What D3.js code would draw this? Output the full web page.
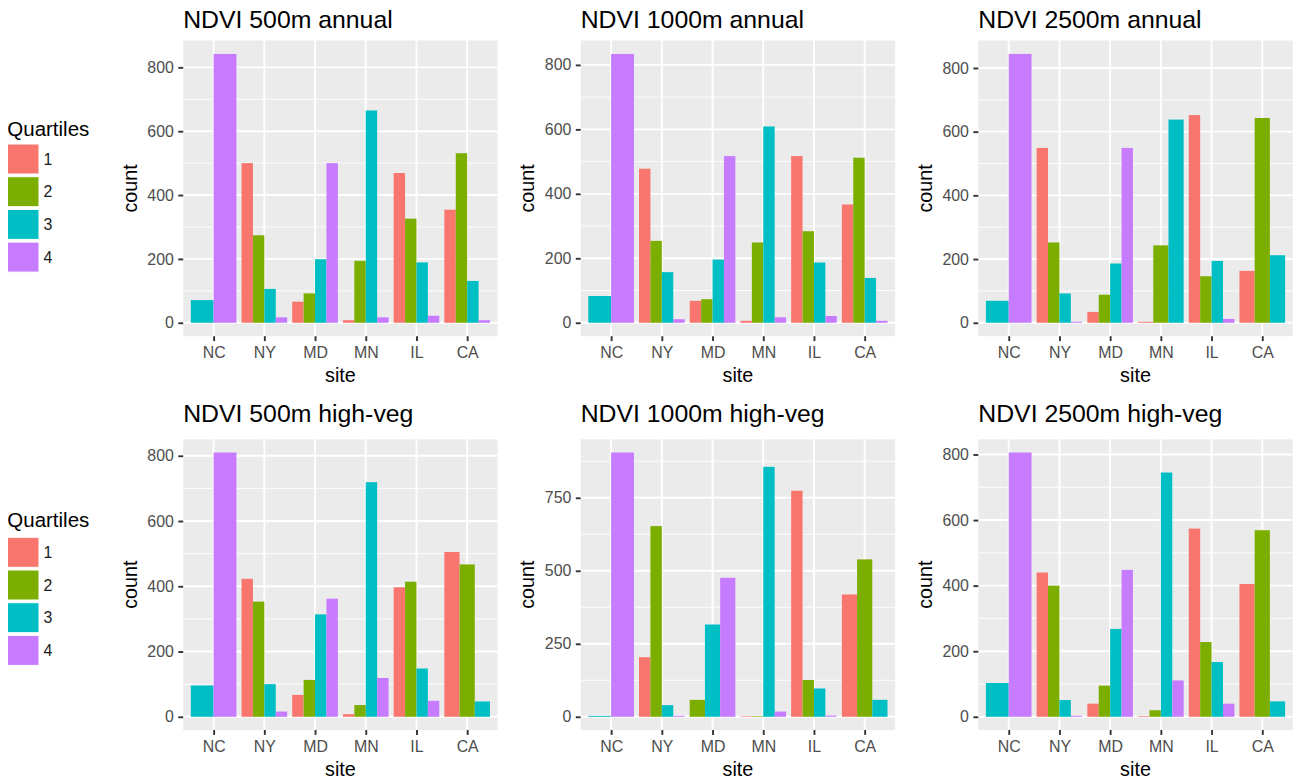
<!DOCTYPE html>
<html>
<head>
<meta charset="utf-8">
<script src="https://cdn.jsdelivr.net/npm/d3@7"></script>
<style>
  body { margin: 0; background: #fff; }
  text { font-family: "Liberation Sans", Arial, sans-serif; }
</style>
</head>
<body>
<div id="chart"></div>
<script>

const sites = ['NC', 'NY', 'MD', 'MN', 'IL', 'CA'];
const quartiles = ['1', '2', '3', '4'];
const colors = ['#F8766D', '#7CAE00', '#00BFC4', '#C77CFF'];

// rows = quartile 1..4, columns = site; null means that quartile has no bar at the site
const annual500 = [
  [null, 500, 66, 8, 469, 354],
  [null, 274, 92, 194, 326, 531],
  [71, 106, 199, 665, 189, 131],
  [842, 17, 500, 17, 22, 8]
];
const annual1000 = [
  [null, 478, 68, 6, 517, 367],
  [null, 254, 73, 249, 284, 512],
  [83, 157, 196, 609, 187, 139],
  [834, 11, 517, 17, 21, 6]
];
const annual2500 = [
  [null, 549, 34, 3, 652, 163],
  [null, 252, 88, 243, 146, 643],
  [69, 92, 186, 638, 194, 212],
  [844, 3, 549, null, 12, null]
];
const highveg500 = [
  [null, 423, 67, 8, 397, 505],
  [null, 353, 113, 36, 414, 467],
  [96, 100, 314, 719, 148, 47],
  [810, 16, 362, 119, 49, null]
];
const highveg1000 = [
  [null, 204, null, 2, 774, 419],
  [null, 653, 58, 2, 126, 539],
  [3, 40, 316, 856, 97, 58],
  [905, 3, 476, 18, 4, null]
];
const highveg2500 = [
  [null, 440, 40, 2, 574, 405],
  [null, 400, 95, 20, 228, 569],
  [103, 51, 268, 745, 167, 47],
  [806, 3, 448, 111, 40, null]
];

const ticksBy200 = [0, 200, 400, 600, 800];
const ticksBy250 = [0, 250, 500, 750];

const titles = ['NDVI 500m annual', 'NDVI 1000m annual', 'NDVI 2500m annual',
                'NDVI 500m high-veg', 'NDVI 1000m high-veg', 'NDVI 2500m high-veg'];
const panelData = [annual500, annual1000, annual2500, highveg500, highveg1000, highveg2500];
const panelTicks = [ticksBy200, ticksBy200, ticksBy200, ticksBy200, ticksBy250, ticksBy200];

const width = 1298;
const height = 783;
const colLeft = [183.2, 580.7, 978.3];
const plotWidth = 314.4;
const rows = [
  {top: 40.5, bottom: 336.2, titleY: 27.8, legendTitleY: 135.5, keyTop: 144},
  {top: 439.3, bottom: 730, titleY: 421.7, legendTitleY: 527, keyTop: 537.3}
];

const svg = d3.select('#chart')
              .append('svg')
              .attr('width', width)
              .attr('height', height);

svg.append('rect')
   .attr('width', width)
   .attr('height', height)
   .attr('fill', '#fff');

const drawPanel = (idx) => {
  const data = panelData[idx];
  const row = rows[Math.floor(idx / 3)];
  const left = colLeft[idx % 3];
  const right = left + plotWidth;
  const maxVal = d3.max(data.flat().filter((d) => d !== null));
  const majors = panelTicks[idx];

  const x = d3.scalePoint()
              .domain(sites)
              .range([left, right])
              .padding(0.6);
  const step = x.step();

  const y = d3.scaleLinear()
              .domain([-0.05 * maxVal, 1.05 * maxVal])
              .range([row.bottom, row.top]);

  const g = svg.append('g');

  g.append('rect')
   .attr('x', left)
   .attr('y', row.top)
   .attr('width', plotWidth)
   .attr('height', row.bottom - row.top)
   .attr('fill', '#EBEBEB');

  // minor grid lines halfway between breaks
  const gap = majors[1] - majors[0];
  const minors = [majors[0] - gap / 2].concat(majors.map((d) => d + gap / 2))
                   .filter((d) => d > y.domain()[0] && d < y.domain()[1]);

  g.selectAll('.minor')
   .data(minors)
   .enter()
   .append('line')
   .attr('x1', left)
   .attr('x2', right)
   .attr('y1', (d) => y(d))
   .attr('y2', (d) => y(d))
   .attr('stroke', '#fff')
   .attr('stroke-width', 0.9);

  g.selectAll('.major')
   .data(majors)
   .enter()
   .append('line')
   .attr('x1', left)
   .attr('x2', right)
   .attr('y1', (d) => y(d))
   .attr('y2', (d) => y(d))
   .attr('stroke', '#fff')
   .attr('stroke-width', 1.9);

  g.selectAll('.vgrid')
   .data(sites)
   .enter()
   .append('line')
   .attr('x1', (d) => x(d))
   .attr('x2', (d) => x(d))
   .attr('y1', row.top)
   .attr('y2', row.bottom)
   .attr('stroke', '#fff')
   .attr('stroke-width', 1.9);

  // dodged bars: the 0.9 wide slot is shared by the quartiles present at each site
  const bars = [];
  sites.forEach((site, i) => {
    const present = quartiles.map((q, k) => k).filter((k) => data[k][i] !== null);
    const bw = 0.9 * step / present.length;
    present.forEach((k, j) => {
      bars.push({site: site, q: k, value: data[k][i], x0: x(site) - 0.45 * step + j * bw, w: bw});
    });
  });

  g.selectAll('.bar')
   .data(bars)
   .enter()
   .append('rect')
   .attr('x', (d) => d.x0)
   .attr('y', (d) => y(d.value))
   .attr('width', (d) => d.w)
   .attr('height', (d) => y(0) - y(d.value))
   .attr('fill', (d) => colors[d.q]);

  const yAxis = d3.axisLeft(y)
                  .tickValues(majors)
                  .tickSize(4.9)
                  .tickPadding(4.5);
  const xAxis = d3.axisBottom(x)
                  .tickSize(4.9)
                  .tickPadding(5.5);

  const ya = g.append('g')
              .attr('transform', 'translate(' + left + ', 0)')
              .call(yAxis);
  const xa = g.append('g')
              .attr('transform', 'translate(0, ' + row.bottom + ')')
              .call(xAxis);

  [ya, xa].forEach((a) => {
    a.select('.domain').remove();
    a.selectAll('line').attr('stroke', '#333333').attr('stroke-width', 1.9);
    a.selectAll('text')
     .attr('fill', '#4D4D4D')
     .style('font-size', '15.9px')
     .style('font-family', '"Liberation Sans", Arial, sans-serif');
  });

  g.append('text')
   .attr('x', left)
   .attr('y', row.titleY)
   .style('font-size', '24.8px')
   .attr('fill', '#000')
   .text(titles[idx]);

  g.append('text')
   .attr('transform', 'translate(' + (left - 46.3) + ', ' + ((row.top + row.bottom) / 2) + ') rotate(-90)')
   .attr('text-anchor', 'middle')
   .style('font-size', '19.8px')
   .text('count');

  g.append('text')
   .attr('x', (left + right) / 2)
   .attr('y', row.bottom + 46)
   .attr('text-anchor', 'middle')
   .style('font-size', '19.8px')
   .text('site');
};

const drawLegend = (row) => {
  const g = svg.append('g');
  g.append('text')
   .attr('x', 7.3)
   .attr('y', row.legendTitleY)
   .style('font-size', '20.5px')
   .text('Quartiles');

  const keyStep = 32.7;
  g.selectAll('.key')
   .data(quartiles)
   .enter()
   .append('rect')
   .attr('x', 7.5)
   .attr('y', (d, i) => row.keyTop + i * keyStep)
   .attr('width', 31.5)
   .attr('height', 30)
   .attr('fill', (d, i) => colors[i])
   .attr('stroke', '#fff')
   .attr('stroke-width', 1);

  g.selectAll('.label')
   .data(quartiles)
   .enter()
   .append('text')
   .attr('x', 43.5)
   .attr('y', (d, i) => row.keyTop + i * keyStep + 15)
   .attr('dy', '0.35em')
   .style('font-size', '15.9px')
   .attr('fill', '#1a1a1a')
   .text((d) => d);
};

panelData.forEach((d, i) => drawPanel(i));
rows.forEach((r) => drawLegend(r));

</script>
</body>
</html>
